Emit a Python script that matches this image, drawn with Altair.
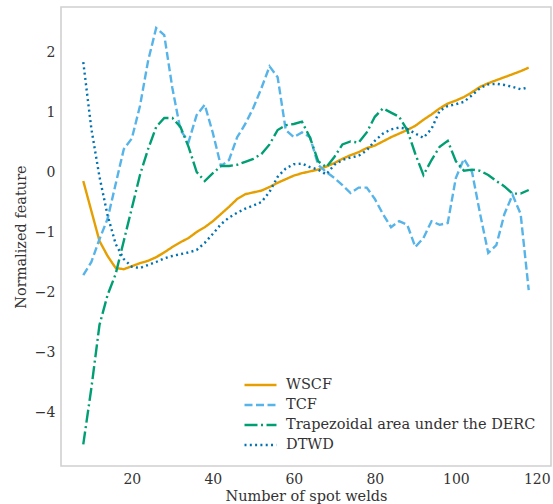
import altair as alt
import pandas as pd

x_vals = list(range(8, 120, 2))

wscf = [-0.15, -0.65, -1.15, -1.40, -1.60, -1.62, -1.57, -1.52, -1.48, -1.42,
        -1.34, -1.25, -1.17, -1.10, -1.00, -0.92, -0.82, -0.70, -0.58, -0.45,
        -0.37, -0.34, -0.31, -0.25, -0.18, -0.12, -0.06, -0.02, 0.01, 0.04,
        0.09, 0.15, 0.22, 0.28, 0.33, 0.40, 0.44, 0.51, 0.58, 0.64,
        0.70, 0.77, 0.87, 0.96, 1.06, 1.14, 1.19, 1.25, 1.33, 1.42,
        1.48, 1.53, 1.58, 1.63, 1.68, 1.74]

tcf = [-1.72, -1.50, -1.12, -0.78, -0.20, 0.38, 0.56, 1.10, 1.85, 2.40,
       2.28, 1.40, 0.70, 0.50, 0.95, 1.12, 0.65, 0.10, 0.20, 0.58,
       0.80, 1.07, 1.40, 1.76, 1.58, 0.70, 0.58, 0.66, 0.58, 0.12,
       0.00, -0.10, -0.22, -0.35, -0.26, -0.26, -0.45, -0.70, -0.92, -0.82,
       -0.88, -1.25, -1.10, -0.82, -0.88, -0.85, -0.10, 0.22, 0.00, -0.70,
       -1.35, -1.22, -0.70, -0.38, -0.70, -1.97]

trap = [-4.54, -3.60, -2.55, -2.05, -1.70, -1.15, -0.60, -0.05, 0.38, 0.75,
        0.90, 0.90, 0.75, 0.42, 0.00, -0.15, -0.02, 0.10, 0.10, 0.12,
        0.17, 0.22, 0.30, 0.46, 0.70, 0.78, 0.80, 0.84, 0.57, 0.18,
        0.08, 0.25, 0.46, 0.51, 0.49, 0.66, 0.92, 1.06, 0.99, 0.92,
        0.70, 0.30, -0.05, 0.20, 0.42, 0.52, 0.18, 0.02, 0.04, 0.02,
        -0.05, -0.15, -0.24, -0.36, -0.36, -0.30]

dtwd = [1.83, 0.72, -0.08, -0.72, -1.20, -1.45, -1.58, -1.60, -1.55, -1.50,
        -1.44, -1.40, -1.37, -1.34, -1.30, -1.18, -1.03, -0.87, -0.76, -0.68,
        -0.61, -0.56, -0.50, -0.33, -0.08, 0.06, 0.13, 0.14, 0.08, 0.04,
        -0.04, 0.12, 0.20, 0.24, 0.27, 0.36, 0.52, 0.64, 0.71, 0.74,
        0.72, 0.64, 0.57, 0.72, 1.02, 1.10, 1.13, 1.17, 1.28, 1.40,
        1.46, 1.47, 1.45, 1.42, 1.38, 1.41]

names = ["WSCF", "TCF", "Trapezoidal area under the DERC", "DTWD"]
colors = ["#E69F00", "#56B4E9", "#009E73", "#0072B2"]
dashes = [[1, 0], [8, 3.5], [13, 3.5, 2, 3.5], [2, 3.3]]
x_ticks = [20, 40, 60, 80, 100, 120]
y_ticks = [-4, -3, -2, -1, 0, 1, 2]

rows = []
for name, series in zip(names, [wscf, tcf, trap, dtwd]):
    for xv, yv in zip(x_vals, series):
        rows.append({"x": xv, "y": yv, "series": name})
df = pd.DataFrame(rows)

FONT = "DejaVu Serif"
TXT = "#333333"

legend = alt.Legend(
    title=None, orient="none", legendX=182, legendY=370,
    symbolType="stroke", symbolSize=1024, symbolStrokeWidth=2.4,
    labelFont=FONT, labelFontSize=14.5, labelColor=TXT, labelOffset=8,
    clipHeight=16, rowPadding=4, labelLimit=400,
)

chart = alt.Chart(df).mark_line(strokeWidth=2.4).encode(
    x=alt.X("x:Q", scale=alt.Scale(domain=[2.5, 123.5], nice=False, zero=False),
            axis=alt.Axis(values=x_ticks, title="Number of spot welds")),
    y=alt.Y("y:Q", scale=alt.Scale(domain=[-4.9, 2.75], nice=False, zero=False),
            axis=alt.Axis(values=y_ticks, title="Normalized feature")),
    color=alt.Color("series:N", scale=alt.Scale(domain=names, range=colors), legend=legend),
    strokeDash=alt.StrokeDash("series:N", scale=alt.Scale(domain=names, range=dashes), legend=legend),
    order=alt.Order("x:Q"),
).properties(
    width=490, height=459,
    background="white",
    autosize=alt.AutoSizeParams(type="none"),
    padding={"left": 61, "top": 7, "right": 2, "bottom": 38},
).configure_view(
    stroke="#d0d0d0", strokeWidth=1.6, fill="white"
).configure_axis(
    grid=False, domain=False, ticks=False,
    labelFont=FONT, labelFontSize=14, labelColor=TXT, labelPadding=6,
    titleFont=FONT, titleFontSize=14.5, titleColor=TXT, titleFontWeight="normal",
).configure_axisX(
    titlePadding=3
).configure_axisY(
    titlePadding=6
).configure_legend(
    labelFont=FONT, labelFontSize=14.5, labelColor=TXT
)

chart.save("out.html", embed_options={"renderer": "svg", "actions": False})
